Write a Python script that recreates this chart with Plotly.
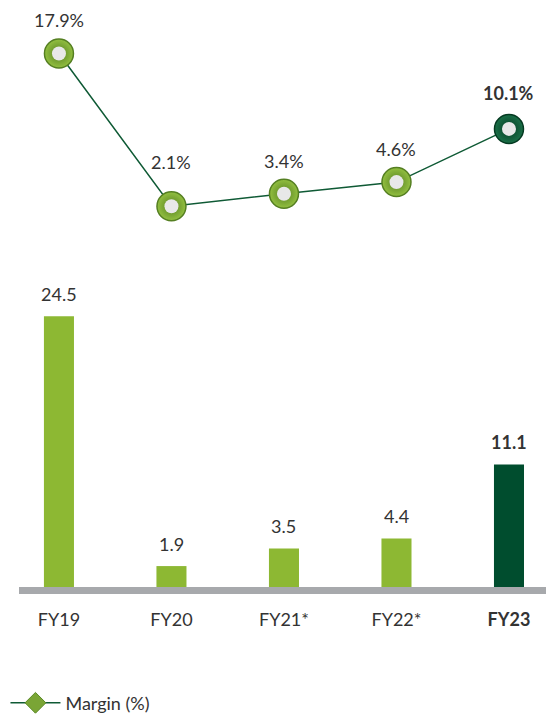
import plotly.graph_objects as go

categories = ["FY19", "FY20", "FY21*", "FY22*", "FY23"]
revenue = [24.5, 1.9, 3.5, 4.4, 11.1]
margin = [17.9, 2.1, 3.4, 4.6, 10.1]
bar_labels = ["24.5", "1.9", "3.5", "4.4", "<b>11.1</b>"]
margin_labels = ["17.9%", "2.1%", "3.4%", "4.6%", "<b>10.1%</b>"]
tick_labels = ["FY19", "FY20", "FY21*", "FY22*", "<b>FY23</b>"]

LIGHT = "#8db833"
DARK = "#004d2e"
TEXT = "#333333"
FONT = "Lato"

xs = list(range(len(categories)))
bar_colors = [LIGHT] * 4 + [DARK]
ring_colors = ["#93c040"] * 4 + ["#1a7048"]
ring_edge = ["#557f22"] * 4 + ["#053a22"]
margin_label_shift = [34, 44, 33, 33, 36]

fig = go.Figure()

fig.add_trace(go.Bar(
    x=xs, y=revenue, width=0.267, marker=dict(color=bar_colors, line=dict(width=0)),
    yaxis="y", showlegend=False, hoverinfo="skip"))

fig.add_trace(go.Scatter(
    x=xs, y=margin, mode="lines", line=dict(color="#0f5a35", width=1.5),
    yaxis="y2", showlegend=False, hoverinfo="skip"))
fig.add_trace(go.Scatter(
    x=xs, y=margin, mode="markers", yaxis="y2", showlegend=False, hoverinfo="skip",
    marker=dict(size=29, color=ring_colors, line=dict(color=ring_edge, width=1.5),
                gradient=dict(type="radial", color=ring_edge))))
fig.add_trace(go.Scatter(
    x=xs, y=margin, mode="markers", yaxis="y2", showlegend=False, hoverinfo="skip",
    marker=dict(size=14, color="#e8e8e8", line=dict(width=0))))

# legend-only trace
fig.add_trace(go.Scatter(
    x=[None], y=[None], mode="lines+markers", name="Margin (%)",
    line=dict(color="#0f5a35", width=1.5),
    marker=dict(symbol="diamond", size=16, color="#7aa535",
                line=dict(color="#5a8a26", width=1))))

annotations = []
for i in xs:
    annotations.append(dict(x=i, y=revenue[i], xref="x", yref="y", text=bar_labels[i],
                            showarrow=False, yshift=22, font=dict(size=18, color=TEXT, family=FONT)))
    annotations.append(dict(x=i, y=margin[i], xref="x", yref="y2", text=margin_labels[i],
                            showarrow=False, yshift=margin_label_shift[i],
                            font=dict(size=18, color=TEXT, family=FONT)))

fig.add_shape(type="rect", xref="paper", yref="paper",
              x0=19 / 546, x1=1, y0=1 - 599 / 722, y1=1 - 592 / 722,
              fillcolor="#a7a9ac", line=dict(width=0), layer="above")

fig.update_layout(
    width=546, height=722, margin=dict(l=0, r=0, t=0, b=0),
    paper_bgcolor="white", plot_bgcolor="white",
    font=dict(family=FONT, color=TEXT, size=18),
    xaxis=dict(range=[-0.524, 4.329], tickvals=xs, ticktext=tick_labels,
               showgrid=False, zeroline=False, showline=False, ticks="",
               tickfont=dict(size=18, color=TEXT), ticklabelstandoff=20),
    yaxis=dict(domain=[1 - 592 / 722, 1 - 300 / 722], range=[0, 26.2],
               visible=False, showgrid=False, zeroline=False),
    yaxis2=dict(domain=[1 - 230 / 722, 1 - 30 / 722], range=[-0.16, 20.36],
                visible=False, showgrid=False, zeroline=False),
    annotations=annotations,
    showlegend=True,
    legend=dict(x=0.01, y=1 - 709 / 722, xanchor="left", yanchor="middle",
                font=dict(size=18, color=TEXT, family=FONT), itemwidth=50,
                bgcolor="rgba(0,0,0,0)"),
)

fig.write_html("out.html")
